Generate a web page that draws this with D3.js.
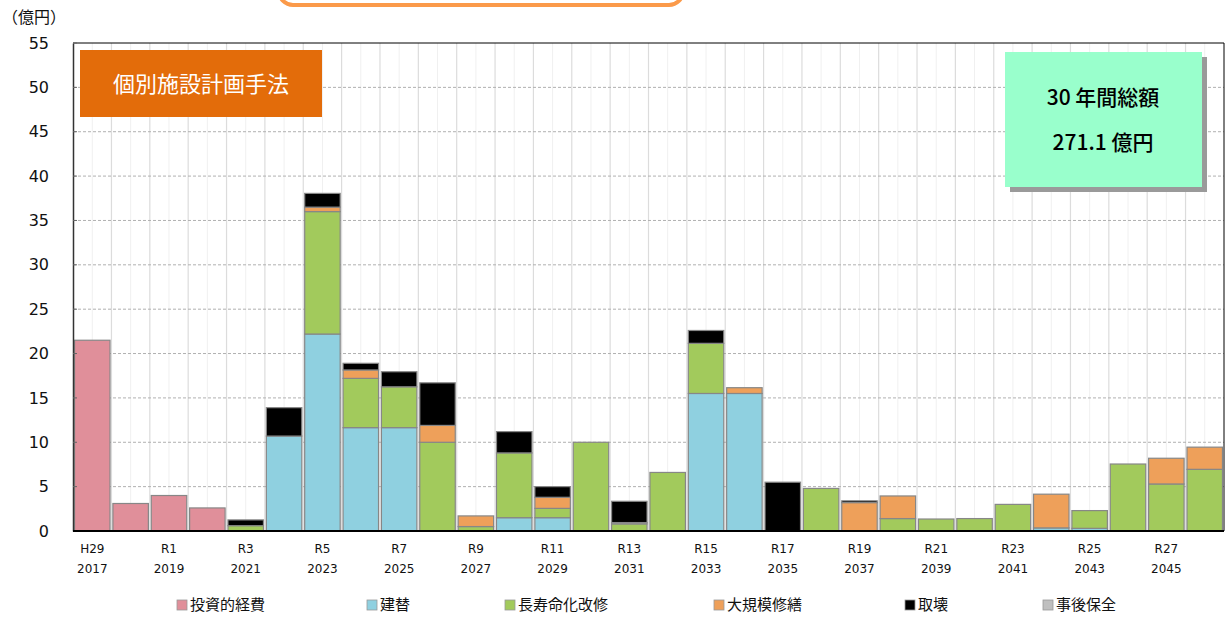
<!DOCTYPE html>
<html>
<head>
<meta charset="utf-8">
<script src="https://cdn.jsdelivr.net/npm/d3@7"></script>
<style>
  body { margin: 0; background: #fff; }
  svg { display: block; }
  text { font-family: "DejaVu Sans", "Noto Sans CJK JP", sans-serif; }
  .jp { font-family: "Noto Sans CJK JP", sans-serif; }
</style>
</head>
<body>
<div id="chart"></div>
<script>
// data
var years = [2017, 2018, 2019, 2020, 2021, 2022, 2023, 2024, 2025, 2026,
    2027, 2028, 2029, 2030, 2031, 2032, 2033, 2034, 2035, 2036,
    2037, 2038, 2039, 2040, 2041, 2042, 2043, 2044, 2045, 2046];
var eraLabels = ["H29", "", "R1", "", "R3", "", "R5", "", "R7", "",
    "R9", "", "R11", "", "R13", "", "R15", "", "R17", "",
    "R19", "", "R21", "", "R23", "", "R25", "", "R27", ""];
var yTicks = [0, 5, 10, 15, 20, 25, 30, 35, 40, 45, 50, 55];

var invest     = [21.5, 3.1, 4.0, 2.6, 0, 0, 0, 0, 0, 0, 0, 0, 0, 0, 0, 0, 0, 0, 0, 0, 0, 0, 0, 0, 0, 0, 0, 0, 0, 0];
var rebuild    = [0, 0, 0, 0, 0, 10.7, 22.2, 11.65, 11.65, 0, 0, 1.5, 1.5, 0, 0, 0, 15.5, 15.5, 0, 0, 0, 0, 0, 0, 0, 0.35, 0.3, 0, 0, 0];
var longevity  = [0, 0, 0, 0, 0.6, 0, 13.8, 5.55, 4.6, 10.0, 0.5, 7.3, 1.05, 10.0, 0.8, 6.6, 5.65, 0, 0, 4.8, 0, 1.4, 1.35, 1.4, 3.0, 0, 2.0, 7.55, 5.3, 6.95];
var major      = [0, 0, 0, 0, 0, 0, 0.5, 0.95, 0, 1.9, 1.2, 0, 1.25, 0, 0, 0, 0, 0.65, 0, 0, 3.2, 2.55, 0, 0, 0, 3.8, 0, 0, 2.9, 2.5];
var postMaint  = [0, 0, 0, 0, 0, 0, 0, 0, 0, 0, 0, 0, 0, 0, 0.15, 0, 0, 0, 0, 0, 0, 0, 0, 0, 0, 0, 0, 0, 0, 0];
var demolish   = [0, 0, 0, 0, 0.65, 3.2, 1.55, 0.75, 1.7, 4.8, 0, 2.4, 1.2, 0, 2.4, 0, 1.45, 0, 5.5, 0, 0.2, 0, 0, 0, 0, 0, 0, 0, 0, 0];

var seriesNames = ["投資的経費", "建替", "長寿命化改修", "大規模修繕", "取壊", "事後保全"];
var seriesColors = ["#e08f9a", "#8fd0e0", "#a2ca5c", "#eea05a", "#000000", "#bfbfbf"];
// stacking order (bottom to top)
var stackKeys = ["投資的経費", "建替", "長寿命化改修", "大規模修繕", "事後保全", "取壊"];
var seriesValues = {
    "投資的経費": invest, "建替": rebuild, "長寿命化改修": longevity,
    "大規模修繕": major, "取壊": demolish, "事後保全": postMaint
};

var svgWidth = 1225, svgHeight = 617;
var margin = { top: 43, right: 1, bottom: 86, left: 73 };
var chartWidth = svgWidth - margin.left - margin.right;
var chartHeight = svgHeight - margin.top - margin.bottom;

var svg = d3.select("#chart").append("svg")
    .attr("width", svgWidth)
    .attr("height", svgHeight);

// orange rounded frame cut off at the top of the page
svg.append("rect")
    .attr("x", 279).attr("y", -40)
    .attr("width", 404).attr("height", 45)
    .attr("rx", 14)
    .attr("fill", "#fff")
    .attr("stroke", "#fb9a4a")
    .attr("stroke-width", 4);

var chartGroup = svg.append("g")
    .attr("transform", `translate(${margin.left}, ${margin.top})`);

var table = years.map(function(y, i) {
    var row = { year: y };
    stackKeys.forEach(function(k) { row[k] = seriesValues[k][i]; });
    return row;
});

var xScale = d3.scaleBand()
    .domain(years)
    .range([0, chartWidth])
    .paddingInner(0.075)
    .paddingOuter(0.04);
var step = xScale.step();

var yScale = d3.scaleLinear()
    .domain([0, 55])
    .range([chartHeight, 0]);

// vertical grid lines: category boundaries and centres
years.forEach(function(y, i) {
    var x0 = xScale(y) - xScale.paddingInner() * step / 2;
    if (i > 0) {
        chartGroup.append("line")
            .attr("x1", x0).attr("x2", x0)
            .attr("y1", 0).attr("y2", chartHeight)
            .attr("stroke", "#dcdcdc").attr("stroke-width", 1.2);
    }
    var xc = xScale(y) + xScale.bandwidth() / 2;
    chartGroup.append("line")
        .attr("x1", xc).attr("x2", xc)
        .attr("y1", 0).attr("y2", chartHeight)
        .attr("stroke", "#f0f0f0").attr("stroke-width", 1);
});

// horizontal dashed grid lines
chartGroup.selectAll(".hgrid")
    .data(yTicks.filter(d => d > 0 && d < 55))
    .enter().append("line")
    .attr("class", "hgrid")
    .attr("x1", 0).attr("x2", chartWidth)
    .attr("y1", d => yScale(d)).attr("y2", d => yScale(d))
    .attr("stroke", "#b0b0b0")
    .attr("stroke-dasharray", "3,2");

// frame
chartGroup.append("line")
    .attr("x1", 0).attr("x2", chartWidth).attr("y1", 0).attr("y2", 0)
    .attr("stroke", "#000").attr("stroke-width", 1);
chartGroup.append("line")
    .attr("x1", chartWidth).attr("x2", chartWidth).attr("y1", 0).attr("y2", chartHeight)
    .attr("stroke", "#000").attr("stroke-width", 1);

// stacked bars
var stacked = d3.stack().keys(stackKeys)(table);
var colorOf = d3.scaleOrdinal().domain(seriesNames).range(seriesColors);

chartGroup.selectAll(".layer")
    .data(stacked)
    .enter().append("g")
    .attr("class", "layer")
    .attr("fill", d => colorOf(d.key))
    .selectAll("rect")
    .data(d => d.filter(p => p[1] - p[0] > 0))
    .enter().append("rect")
    .attr("x", d => xScale(d.data.year))
    .attr("width", xScale.bandwidth())
    .attr("y", d => yScale(d[1]))
    .attr("height", d => yScale(d[0]) - yScale(d[1]))
    .attr("stroke", "#878787")
    .attr("stroke-width", 1.2);

// y axis
var leftAxis = d3.axisLeft(yScale).tickValues(yTicks).tickSize(0).tickPadding(24);
var yAxis = chartGroup.append("g").call(leftAxis);
yAxis.select(".domain").attr("stroke", "#333").attr("stroke-width", 1.5);
yAxis.selectAll("text")
    .attr("font-size", 16)
    .attr("fill", "#111")
    .attr("font-family", "DejaVu Sans, sans-serif");
// small inner ticks
chartGroup.selectAll(".ytick")
    .data(yTicks)
    .enter().append("line")
    .attr("x1", 0).attr("x2", 4)
    .attr("y1", d => yScale(d)).attr("y2", d => yScale(d))
    .attr("stroke", "#666");

// x axis line
chartGroup.append("line")
    .attr("x1", 0).attr("x2", chartWidth)
    .attr("y1", chartHeight).attr("y2", chartHeight)
    .attr("stroke", "#000").attr("stroke-width", 2);

// x labels (two lines)
var xLabels = chartGroup.selectAll(".xlab")
    .data(years.map((y, i) => ({ year: y, era: eraLabels[i] })).filter(d => d.era !== ""))
    .enter().append("g")
    .attr("transform", d => `translate(${xScale(d.year) + xScale.bandwidth() / 2}, ${chartHeight})`);
xLabels.append("text")
    .attr("y", 22)
    .attr("text-anchor", "middle")
    .attr("font-size", 12)
    .attr("fill", "#111")
    .text(d => d.era);
xLabels.append("text")
    .attr("y", 42)
    .attr("text-anchor", "middle")
    .attr("font-size", 12)
    .attr("fill", "#111")
    .text(d => d.year);

// unit label
svg.append("text")
    .attr("class", "jp")
    .attr("x", 2).attr("y", 23)
    .attr("font-size", 16)
    .attr("fill", "#111")
    .text("（億円）");

// method title box
svg.append("rect")
    .attr("x", 80).attr("y", 50)
    .attr("width", 242).attr("height", 67)
    .attr("fill", "#e36c0a");
svg.append("text")
    .attr("class", "jp")
    .attr("x", 201).attr("y", 84)
    .attr("dy", "0.35em")
    .attr("text-anchor", "middle")
    .attr("font-size", 22)
    .attr("fill", "#fff")
    .text("個別施設計画手法");

// total box with shadow
svg.append("rect")
    .attr("x", 1010).attr("y", 57)
    .attr("width", 197).attr("height", 135)
    .attr("fill", "#9a9a9a");
svg.append("rect")
    .attr("x", 1005).attr("y", 52)
    .attr("width", 197).attr("height", 135)
    .attr("fill", "#99ffcc");
svg.append("text")
    .attr("class", "jp")
    .attr("x", 1103).attr("y", 98)
    .attr("dy", "0.35em")
    .attr("text-anchor", "middle")
    .attr("font-size", 21)
    .attr("font-weight", 500)
    .attr("fill", "#000")
    .text("30 年間総額");
svg.append("text")
    .attr("class", "jp")
    .attr("x", 1103).attr("y", 143)
    .attr("dy", "0.35em")
    .attr("text-anchor", "middle")
    .attr("font-size", 21)
    .attr("font-weight", 500)
    .attr("fill", "#000")
    .text("271.1 億円");

// legend
var legendX = [177, 367, 505, 714, 905, 1043];
var legend = svg.selectAll(".legend")
    .data(seriesNames)
    .enter().append("g")
    .attr("transform", (d, i) => `translate(${legendX[i]}, 605)`);
legend.append("rect")
    .attr("x", 0).attr("y", -5)
    .attr("width", 10).attr("height", 10)
    .attr("fill", d => colorOf(d))
    .attr("stroke", "#999")
    .attr("stroke-width", 0.8);
legend.append("text")
    .attr("class", "jp")
    .attr("x", 13).attr("y", 0)
    .attr("dy", "0.35em")
    .attr("font-size", 15)
    .attr("fill", "#111")
    .text(d => d);
</script>
</body>
</html>
